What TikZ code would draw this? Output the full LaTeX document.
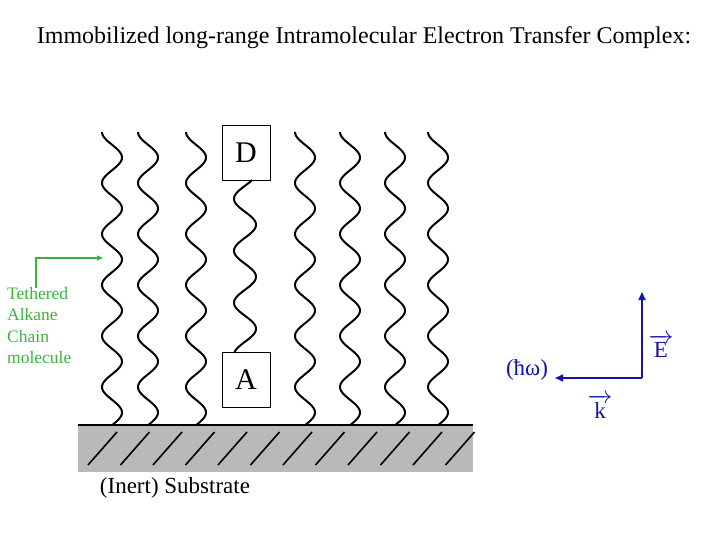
\documentclass[tikz,border=0pt]{standalone}
\usepackage{fontspec}
\setmainfont{Liberation Serif}
\usetikzlibrary{arrows.meta}
\definecolor{grn}{RGB}{60,180,60}
\definecolor{blu}{RGB}{20,20,170}
\tikzset{chain/.style={line width=2pt,black},
 lbox/.style={draw,line width=1pt,minimum width=48pt,minimum height=55pt,font=\fontsize{30}{32}\selectfont},
 hatch/.style={line width=1.6pt},
 blarrow/.style={blu,line width=1.6pt,-{Triangle[length=8pt,width=7pt]}},
 blab/.style={blu,font=\fontsize{23}{26}\selectfont}}
\begin{document}
\begin{tikzpicture}[x=1pt,y=-1pt]
\useasboundingbox (0,0) rectangle (720,540);
\node[font=\fontsize{24}{26}\selectfont] (title) at (364,38) {Immobilized long-range Intramolecular Electron Transfer Complex:};
\fill[gray!55] (78,425) rectangle (473,472);
\draw[line width=1.5pt] (78,425) -- (473,425);
\foreach \i in {0,...,11} {\draw[hatch] (88+\i*32.5,465) -- (117+\i*32.5,432);}
\foreach \xo in {122,158,206,315,360,405,448} {
 \draw[chain] plot[domain=0:293,samples=200,smooth] ({\xo-10-10*sin(\x*7.0588+90)}, {132+\x});
}
\node[lbox] (D) at (246,153) {D};
\node[lbox] (A) at (246,380) {A};
\draw[chain] plot[domain=0:173,samples=200,smooth] ({245-11*sin(\x*6.923-40)}, {180+\x});
\node[font=\fontsize{23}{26}\selectfont] (sub) at (175,488) {(Inert) Substrate};
\node[grn,align=left,anchor=north west,font=\fontsize{17.5}{21.5}\selectfont,inner sep=0pt] (teth) at (7,287) {Tethered\\Alkane\\Chain\\molecule};
\coordinate (g0) at (36,288);
\coordinate (g1) at (103,258);
\draw[grn,line width=1.2pt,-{Triangle[length=6pt,width=5pt]}] (g0) |- (g1);
\coordinate (o) at (642,378);
\coordinate (et) at (642,292);
\coordinate (kt) at (555,378);
\draw[blarrow] (o) -- (et);
\draw[blarrow] (o) -- (kt);
\node[blab] (E) at (661,346) {$\overrightarrow{\mathrm{E}}$};
\node[blab] (k) at (600,406) {$\overrightarrow{\mathrm{k}}$};
\node[blab] (hw) at (527,370) {(ħω)};
\end{tikzpicture}
\end{document}
